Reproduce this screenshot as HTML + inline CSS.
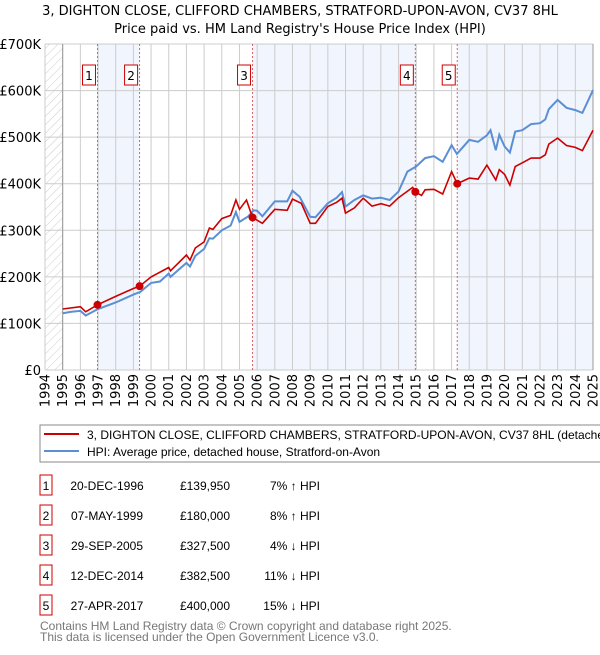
<!DOCTYPE html>
<html><head><meta charset="utf-8"><style>
body{margin:0;background:#fff;font-family:"Liberation Sans","DejaVu Sans",sans-serif;}
svg text{font-family:"DejaVu Sans","Liberation Sans",sans-serif;}
svg text.lib{font-family:"Liberation Sans","DejaVu Sans",sans-serif;}
</style></head><body>
<svg id="c" width="600" height="650" xmlns="http://www.w3.org/2000/svg">
<defs><pattern id="hatch" width="6" height="6" patternUnits="userSpaceOnUse" patternTransform="rotate(45)"><line x1="0" y1="0" x2="0" y2="6" stroke="#ccc" stroke-width="1"/></pattern></defs>
<text x="300" y="15" text-anchor="middle" font-size="13" fill="#000">3, DIGHTON CLOSE, CLIFFORD CHAMBERS, STRATFORD-UPON-AVON, CV37 8HL</text>
<text x="300" y="33" text-anchor="middle" font-size="13" fill="#000">Price paid vs. HM Land Registry's House Price Index (HPI)</text>
<g id="plot"></g>
<rect x="40" y="425" width="570" height="37" fill="#fff" stroke="#888"/>
<line x1="44" y1="434" x2="79" y2="434" stroke="#cc0000" stroke-width="2"/>
<text class="lib" x="87" y="439" font-size="12">3, DIGHTON CLOSE, CLIFFORD CHAMBERS, STRATFORD-UPON-AVON, CV37 8HL (detached house)</text>
<line x1="44" y1="451" x2="79" y2="451" stroke="#5b8fd4" stroke-width="2"/>
<text class="lib" x="87" y="456" font-size="12">HPI: Average price, detached house, Stratford-on-Avon</text>
<g id="table"></g>
<text class="lib" x="40" y="630" font-size="12" fill="#777">Contains HM Land Registry data © Crown copyright and database right 2025.</text>
<text class="lib" x="40" y="641" font-size="12" fill="#777">This data is licensed under the Open Government Licence v3.0.</text>
</svg>
<script>
const hpiYears=[1995,1995.5,1996,1996.3,1997,1998,1999,1999.4,2000,2000.5,2001,2001.1,2002,2002.2,2002.5,2003,2003.3,2003.5,2004,2004.5,2004.8,2005,2005.5,2005.8,2006,2006.3,2007,2007.7,2008,2008.4,2009,2009.3,2010,2010.5,2010.8,2011,2011.5,2012,2012.5,2013,2013.5,2014,2014.5,2015,2015.5,2016,2016.5,2017,2017.3,2018,2018.5,2019,2019.2,2019.5,2019.7,2020,2020.3,2020.6,2021,2021.5,2022,2022.3,2022.5,2023,2023.5,2024,2024.4,2025];
const hpiValues=[122,125,127,117,131,145,162,168,187,190,207,200,230,222,245,260,283,282,300,310,339,318,330,343,342,330,362,362,385,372,329,328,358,370,382,351,365,375,368,370,365,383,426,437,455,459,447,483,464,494,490,504,515,472,505,480,467,512,515,528,530,538,560,580,563,558,552,601];
const redYears=[1995,1996,1996.3,1996.97,1998,1999,1999.35,2000,2001,2001.1,2002,2002.2,2002.5,2003,2003.3,2003.5,2004,2004.5,2004.8,2005,2005.4,2005.74,2006.3,2007,2007.7,2008,2008.5,2009,2009.3,2010,2010.5,2010.8,2011,2011.5,2012,2012.5,2013,2013.5,2014,2014.8,2014.95,2015.3,2015.5,2016,2016.5,2017,2017.32,2018,2018.5,2019,2019.5,2019.7,2020,2020.3,2020.6,2021,2021.5,2022,2022.3,2022.5,2023,2023.5,2024,2024.4,2025];
const redValues=[131,136,125,140,158,175,180,200,220,213,247,236,262,275,305,302,325,332,365,345,365,327.5,315,345,343,367,358,315,315,351,360,369,337,348,369,352,357,352,370,392,382.5,375,387,388,378,426,400,412,410,440,408,430,420,397,437,445,455,455,462,485,498,482,478,471,515];
const saleYears=[1996.97,1999.35,2005.74,2014.95,2017.32];
const saleValues=[139.95,180,327.5,382.5,400];
const saleLabels=["1","2","3","4","5"];
const saleDates=["20-DEC-1996","07-MAY-1999","29-SEP-2005","12-DEC-2014","27-APR-2017"];
const salePrices=["£139,950","£180,000","£327,500","£382,500","£400,000"];
const saleDiffs=["7% ↑ HPI","8% ↑ HPI","4% ↓ HPI","11% ↓ HPI","15% ↓ HPI"];
const yTicks=[0,100,200,300,400,500,600,700];
const yTickLabels=["£0","£100K","£200K","£300K","£400K","£500K","£600K","£700K"];
const xTicks=[];for(let y=1994;y<=2025;y++)xTicks.push(y);

const NS="http://www.w3.org/2000/svg";
const X0=45,X1=593,Y0=370,Y1=44;
const xs=y=>X0+(y-1994)/31*(X1-X0);
const ys=v=>Y0-v/700*(Y0-Y1);
const plot=document.getElementById('plot');
function mk(tag,attrs,parent){const e=document.createElementNS(NS,tag);for(const k in attrs)e.setAttribute(k,attrs[k]);(parent||plot).appendChild(e);return e;}

let e;
e=mk('rect',{x:X0,y:Y1,width:X1-X0,height:Y0-Y1,fill:'#fff'});


e=mk('rect',{x:X0,y:Y1,width:xs(1995)-X0,height:Y0-Y1,fill:'url(#hatch)'});


const bands=[[0,1],[2,3],[4,null]];
bands.forEach((b,i)=>{const a=xs(saleYears[b[0]]);const bb=b[1]===null?X1:xs(saleYears[b[1]]);
 const r=mk('rect',{x:a,y:Y1,width:bb-a,height:Y0-Y1,fill:'#eef2fc',opacity:0.8});
 
 });
xTicks.forEach(y=>{const l=mk('line',{x1:xs(y),x2:xs(y),y1:Y1,y2:Y0,stroke:'#ccc','stroke-width':1});
 
 
 const t=mk('text',{x:0,y:0,'font-size':13,'text-anchor':'end',transform:`translate(${xs(y)+4.5},374) rotate(-90)`});
 t.textContent=y;
 
 });
yTicks.forEach((v,i)=>{const l=mk('line',{x1:X0,x2:X1,y1:ys(v),y2:ys(v),stroke:'#ccc','stroke-width':1});
 
 
 const t=mk('text',{x:41,y:ys(v)+5,'font-size':13,'text-anchor':'end'});
 t.textContent=yTickLabels[i];
 
 });
e=mk('line',{x1:xs(1995),x2:xs(1995),y1:Y1,y2:Y0,stroke:'#999'});


e=mk('line',{x1:X1,x2:X1,y1:Y1,y2:Y0,stroke:'#999'});


saleYears.forEach((y,i)=>{const l=mk('line',{x1:xs(y),x2:xs(y),y1:Y1,y2:Y0,stroke:'#e06060','stroke-dasharray':'2,2'});
 
 
 const r=mk('rect',{x:xs(y)-15,y:65,width:13,height:20,fill:'#fff',stroke:'#cc0000'});
 
 
 const t=mk('text',{x:xs(y)-8.5,y:80,'font-size':12,'text-anchor':'middle'});
 t.textContent=saleLabels[i];
 
 });
const pts=(xa,va)=>xa.map((y,i)=>xs(y).toFixed(1)+','+ys(va[i]).toFixed(1)).join(' ');
e=mk('polyline',{points:pts(hpiYears,hpiValues),fill:'none',stroke:'#5b8fd4','stroke-width':2});


e=mk('polyline',{points:pts(redYears,redValues),fill:'none',stroke:'#cc0000','stroke-width':1.6});


saleYears.forEach((y,i)=>{const c=mk('circle',{cx:xs(y),cy:ys(saleValues[i]),r:4,fill:'#cc0000'});
 
 });

const tbl=document.getElementById('table');
saleLabels.forEach((s,i)=>{const yy=475+i*30;
 const r=mk('rect',{x:40,y:yy,width:12,height:20,fill:'#fff',stroke:'#cc0000'},tbl);
 
 
 const t0=mk('text',{x:46,y:yy+15,'font-size':12,'text-anchor':'middle',class:'lib'},tbl);t0.textContent=s;
 
 
 const t1=mk('text',{x:107,y:yy+15,'font-size':12,'text-anchor':'middle',class:'lib'},tbl);t1.textContent=saleDates[i];
 
 
 const t2=mk('text',{x:230,y:yy+15,'font-size':12,'text-anchor':'end',class:'lib'},tbl);t2.textContent=salePrices[i];
 
 
 const t3=mk('text',{x:320,y:yy+15,'font-size':12,'text-anchor':'end',class:'lib'},tbl);t3.textContent=saleDiffs[i];
 
 });
</script>
</body></html>
